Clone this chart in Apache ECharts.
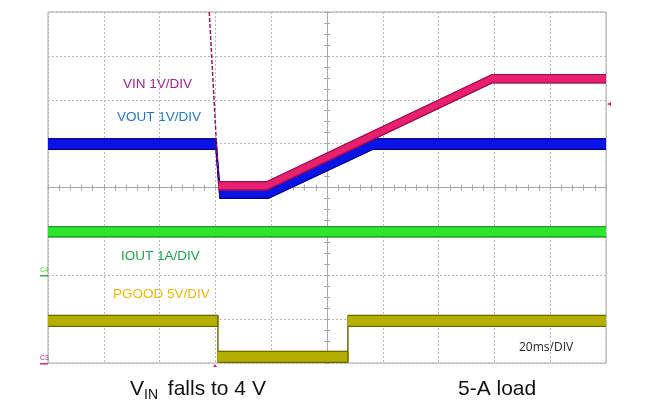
<!DOCTYPE html>
<html>
<head>
<meta charset="utf-8">
<script src="https://cdn.jsdelivr.net/npm/echarts@6/dist/echarts.min.js"></script>
<style>html,body{margin:0;padding:0;background:#fff}#c{width:653px;height:413px}</style>
</head>
<body>
<div id="c"></div>
<script>
// time in ms (20 ms/div, 10 div), level in divisions (0..8 from bottom)
const vinFall = [[57.8, 8.0], [61.2, 4.04]];
const vin = [[61.2, 4.04], [78.5, 4.04], [159.2, 6.48], [200, 6.48]];
const vout = [[0, 4.99], [60.2, 4.99], [61.6, 3.87], [78.9, 3.87], [116.5, 4.99], [200, 4.99]];
const iout = [[0, 2.99], [200, 2.99]];
const pgood = [[0, 0.96], [60.9, 0.96], [60.9, 0.14], [107.5, 0.14], [107.5, 0.96], [200, 0.96]];
const labels = ['VIN 1V/DIV', 'VOUT 1V/DIV', 'IOUT 1A/DIV', 'PGOOD 5V/DIV', '20ms/DIV', '5-A load'];

// a trace drawn as a thick band: fill between v-half and v+half, darker edges
function band(name, data, half, fill, edge) {
  const segs = data.slice(0, -1).map((p, i) => [p[0], p[1], data[i + 1][0], data[i + 1][1]]);
  return {
    name: name, type: 'custom', silent: true, clip: true,
    xAxisIndex: 0, yAxisIndex: 0,
    data: segs,
    encode: { x: [0, 2], y: [1, 3] },
    renderItem: function (params, api) {
      const t0 = api.value(0), v0 = api.value(1), t1 = api.value(2), v1 = api.value(3);
      const a = api.coord([t0, v0 + half]), b = api.coord([t1, v1 + half]);
      const c = api.coord([t1, v1 - half]), d = api.coord([t0, v0 - half]);
      const vertical = Math.abs(b[0] - a[0]) < 0.5;
      const children = [
        { type: 'polygon', shape: { points: [a, b, c, d] }, style: { fill: fill, stroke: vertical ? edge : fill, lineWidth: 1 } }
      ];
      if (!vertical) {
        children.push({ type: 'polyline', shape: { points: [a, b] }, style: { stroke: edge, lineWidth: 1.2, fill: null } });
        children.push({ type: 'polyline', shape: { points: [d, c] }, style: { stroke: edge, lineWidth: 1.2, fill: null } });
      }
      return { type: 'group', children: children };
    }
  };
}

const chart = echarts.init(document.getElementById('c'), null, { renderer: 'canvas' });
const L = 48, T = 12, W = 558, H = 351;
const gc = '#a8a8a8';
const tick = (inside, n) => ({
  axisLine: { show: true, onZero: false, lineStyle: { color: gc, width: 1 } },
  axisTick: { show: true, inside: inside, length: 3, lineStyle: { color: gc } },
  minorTick: { show: true, splitNumber: n, length: 3, lineStyle: { color: gc } },
  axisLabel: { show: false }, splitLine: { show: false }
});
const none = { show: false, axisLine: { show: false, onZero: false }, axisTick: { show: false }, axisLabel: { show: false }, splitLine: { show: false } };
const font = 'Liberation Sans, Arial, sans-serif';

const option = {
  animation: false,
  backgroundColor: '#fff',
  grid: [
    { left: L, top: T, width: W, height: H, show: true, borderColor: '#a8a8a8', borderWidth: 1 },
    { left: L, top: T, width: W, height: H / 2 },          // upper half: centre horizontal line
    { left: L, top: T + H / 2, width: W, height: H / 2 },  // lower half
    { left: L, top: T, width: W / 2, height: H },          // left half: centre vertical line
    { left: L + W / 2, top: T, width: W / 2, height: H }   // right half
  ],
  xAxis: [
    { type: 'value', gridIndex: 0, min: 0, max: 200, interval: 20, axisLine: { show: false }, axisTick: { show: false }, axisLabel: { show: false },
      splitLine: { show: true, lineStyle: { color: '#b8b8b8', type: [2, 2], width: 1 } } },
    Object.assign({ type: 'value', gridIndex: 1, min: 0, max: 200, interval: 20, position: 'bottom' }, tick(true, 5)),
    Object.assign({ type: 'value', gridIndex: 2, min: 0, max: 200, interval: 20, position: 'top' }, tick(true, 5)),
    Object.assign({ type: 'value', gridIndex: 3, min: 0, max: 1 }, none),
    Object.assign({ type: 'value', gridIndex: 4, min: 0, max: 1 }, none)
  ],
  yAxis: [
    { type: 'value', gridIndex: 0, min: 0, max: 8, interval: 1, axisLine: { show: false }, axisTick: { show: false }, axisLabel: { show: false },
      splitLine: { show: true, lineStyle: { color: '#b8b8b8', type: [2, 2], width: 1 } } },
    Object.assign({ type: 'value', gridIndex: 1, min: 0, max: 1 }, none),
    Object.assign({ type: 'value', gridIndex: 2, min: 0, max: 1 }, none),
    Object.assign({ type: 'value', gridIndex: 3, min: 0, max: 8, interval: 1, position: 'right' }, tick(true, 4)),
    Object.assign({ type: 'value', gridIndex: 4, min: 0, max: 8, interval: 1, position: 'left' }, tick(true, 4))
  ],
  series: [
    band('IOUT', iout, 0.115, '#2ee42e', '#139013'),
    band('PGOOD', pgood, 0.125, '#b3ae00', '#6c6900'),
    band('VOUT', vout, 0.12, '#0a14e6', '#000090'),
    band('VIN', vin, 0.095, '#e8206e', '#9c0a50'),
    { name: 'VIN fall', type: 'line', symbol: 'none', silent: true, data: vinFall, clip: true,
      lineStyle: { color: '#a0105a', width: 1.5, type: [4, 2] } }
  ],
  graphic: [
    { type: 'text', style: { x: 123, y: 84, text: labels[0], fill: '#a21f96', font: '13.5px ' + font, textVerticalAlign: 'middle' } },
    { type: 'text', style: { x: 117, y: 117, text: labels[1], fill: '#1f78d0', font: '13.5px ' + font, textVerticalAlign: 'middle' } },
    { type: 'text', style: { x: 121, y: 256.5, text: labels[2], fill: '#17a84a', font: '13.5px ' + font, textVerticalAlign: 'middle' } },
    { type: 'text', style: { x: 113, y: 294, text: labels[3], fill: '#f8b400', font: '13.5px ' + font, textVerticalAlign: 'middle' } },
    { type: 'text', style: { x: 519, y: 348, text: labels[4], fill: '#222', font: '12px Open Sans, sans-serif', textVerticalAlign: 'middle' } },
    { type: 'text', style: { x: 130, y: 389.5, text: 'V', fill: '#111', font: '21px ' + font, textVerticalAlign: 'middle' } },
    { type: 'text', style: { x: 144, y: 395, text: 'IN', fill: '#111', font: '14px ' + font, textVerticalAlign: 'middle' } },
    { type: 'text', style: { x: 162, y: 389.5, text: ' falls to 4 V', fill: '#111', font: '21px ' + font, textVerticalAlign: 'middle' } },
    { type: 'text', style: { x: 458, y: 389.5, text: labels[5], fill: '#111', font: '21px ' + font, textVerticalAlign: 'middle' } },
    { type: 'text', style: { x: 40, y: 270, text: 'C4', fill: '#3ad03a', font: '7px ' + font, textVerticalAlign: 'middle' } },
    { type: 'rect', shape: { x: 40, y: 275, width: 8, height: 1.5 }, style: { fill: '#22c022' } },
    { type: 'text', style: { x: 40, y: 358, text: 'C3', fill: '#d02080', font: '7px ' + font, textVerticalAlign: 'middle' } },
    { type: 'rect', shape: { x: 40, y: 363, width: 8, height: 1.5 }, style: { fill: '#e0208a' } },
    { type: 'polygon', shape: { points: [[607, 104], [611, 102], [611, 106]] }, style: { fill: '#e8206e' } },
    { type: 'polygon', shape: { points: [[215, 364], [213, 367], [217, 367]] }, style: { fill: '#e8206e' } }
  ]
};
chart.setOption(option);
</script>
</body>
</html>
